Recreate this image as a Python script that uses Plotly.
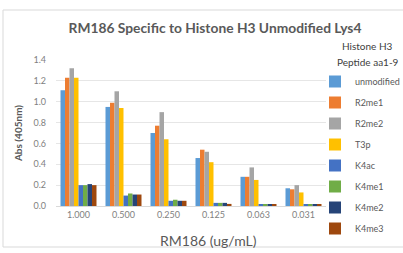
import plotly.graph_objects as go

categories = ["1.000", "0.500", "0.250", "0.125", "0.063", "0.031"]
series_names = ["unmodified", "R2me1", "R2me2", "T3p", "K4ac", "K4me1", "K4me2", "K4me3"]
unmodified = [1.11, 0.95, 0.70, 0.46, 0.28, 0.17]
r2me1 = [1.23, 0.99, 0.77, 0.54, 0.28, 0.16]
r2me2 = [1.32, 1.10, 0.90, 0.52, 0.37, 0.20]
t3p = [1.23, 0.94, 0.64, 0.42, 0.25, 0.13]
k4ac = [0.20, 0.10, 0.05, 0.03, 0.01, 0.01]
k4me1 = [0.20, 0.12, 0.06, 0.03, 0.01, 0.01]
k4me2 = [0.21, 0.11, 0.05, 0.03, 0.01, 0.01]
k4me3 = [0.20, 0.11, 0.05, 0.02, 0.01, 0.01]
series_values = [unmodified, r2me1, r2me2, t3p, k4ac, k4me1, k4me2, k4me3]
colors = ["#5B9BD5", "#ED7D31", "#A5A5A5", "#FFC000", "#4472C4", "#70AD47", "#264478", "#9E480E"]
y_ticks = [0.0, 0.2, 0.4, 0.6, 0.8, 1.0, 1.2, 1.4]

fig = go.Figure()
for i, (name, vals) in enumerate(zip(series_names, series_values)):
    fig.add_trace(go.Bar(x=categories, y=vals, name=name, marker_color=colors[i],
                         marker_line_width=0, legendgroup=name))

font_family = "Lato, 'Open Sans', sans-serif"
fig.update_layout(
    width=403, height=253,
    margin=dict(l=56, r=77, t=60, b=47, autoexpand=False),
    paper_bgcolor="white", plot_bgcolor="white",
    barmode="group", bargap=0.2, bargroupgap=0,
    font=dict(family=font_family, color="#595959"),
    title=dict(text="RM186 Specific to Histone H3 Unmodified Lys4",
               x=215 / 403, xref="container", xanchor="center",
               y=1 - 28 / 253, yref="container", yanchor="middle",
               font=dict(size=13.8, color="#595959", family=font_family, weight="bold")),
    xaxis=dict(type="category", tickfont=dict(size=9, color="#7f7f7f"),
               showline=True, linecolor="#d9d9d9", linewidth=1, ticks=""),
    yaxis=dict(range=[0, 1.4], tickvals=y_ticks, tickformat=".1f",
               tickfont=dict(size=9, color="#7f7f7f"),
               showgrid=True, gridcolor="#e6e6e6", gridwidth=1, zeroline=False,
               showline=False, ticks="", ticklabelstandoff=9,
               title=dict(text="Abs (405nm)", font=dict(size=10, color="#595959", weight="bold"), standoff=8)),
    legend=dict(x=(315 - 56) / 270, xanchor="left",
                y=(206 - 67) / 146, yanchor="top",
                font=dict(size=9, color="#595959"), tracegroupgap=2, maxheight=250,
                itemwidth=30, bgcolor="rgba(0,0,0,0)"),
    annotations=[
        dict(text="Histone H3", xref="paper", yref="paper", x=(368 - 56) / 270, y=(206 - 46) / 146,
             xanchor="center", yanchor="middle", showarrow=False, font=dict(size=10, color="#404040")),
        dict(text="Peptide aa1-9", xref="paper", yref="paper", x=(335 - 56) / 270, y=(206 - 62) / 146,
             xanchor="left", yanchor="middle", showarrow=False, font=dict(size=10, color="#404040")),
        dict(text="RM186 (ug/mL)", xref="paper", yref="paper", x=(208 - 56) / 270, y=(206 - 240) / 146,
             xanchor="center", yanchor="middle", showarrow=False, font=dict(size=14, color="#595959")),
    ],
    shapes=[dict(type="rect", xref="paper", yref="paper",
                 x0=(3 - 56) / 270, x1=(410 - 56) / 270,
                 y0=(206 - 247) / 146, y1=(206 - 10) / 146,
                 line=dict(color="#d9d9d9", width=1), fillcolor="rgba(0,0,0,0)", layer="below")],
)

fig.write_html("out.html", config={"displayModeBar": False},
               post_script="document.body.style.margin='0';")
